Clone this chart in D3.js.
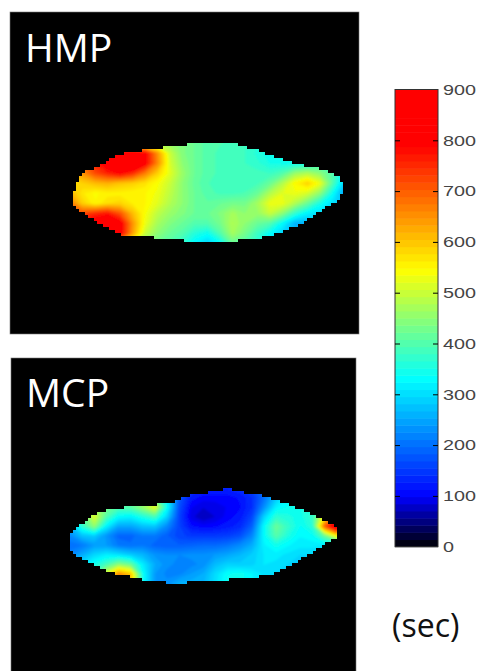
<!DOCTYPE html>
<html>
<head>
<meta charset="utf-8">
<script src="https://cdn.jsdelivr.net/npm/d3@7"></script>
<style>
  body { margin: 0; background: #fff; }
  svg { display: block; }
</style>
</head>
<body>
<svg id="chart" width="479" height="671"></svg>
<script>
// colorbar
var barTicks = [0, 100, 200, 300, 400, 500, 600, 700, 800, 900];
var rampStops = [0, 100, 330, 440, 545, 790, 900];
var rampColors = ["#000000", "#0000ff", "#00ffff", "#80ff80", "#ffff00", "#ff0000", "#ff0000"];
var levelCount = 64;
var maxValue = 900;

// time values (sec), rows top to bottom
var hmpValues = [
  [480,480,480,500,500,500,500,480,460,440,420,400,395,390,380,370,360,350,340,340,340,340,340],
  [560,600,680,760,820,830,800,650,500,440,420,400,390,385,380,360,340,335,330,330,340,340,330],
  [640,680,760,830,880,880,800,660,510,450,420,400,390,385,380,370,350,345,340,350,380,370,330],
  [600,650,720,760,790,750,670,590,520,460,420,400,390,385,385,385,380,400,460,480,450,400,320],
  [580,590,610,620,600,590,570,540,500,450,415,395,385,385,385,390,420,480,550,590,530,400,280],
  [620,565,545,555,555,550,550,530,490,450,420,400,390,390,395,420,480,520,530,510,450,340,240],
  [680,590,550,575,585,560,550,520,480,450,420,410,420,430,430,470,530,530,480,420,350,300,280],
  [720,720,750,770,710,610,540,490,460,440,420,420,440,470,450,460,500,450,370,320,300,300,300],
  [800,800,830,860,810,650,530,470,440,420,400,400,430,480,450,420,400,330,260,260,300,300,300],
  [800,800,830,860,810,640,500,450,420,400,360,340,400,470,430,380,330,290,270,270,300,300,300],
  [700,700,700,700,600,500,450,420,400,370,320,290,330,420,400,370,330,300,300,300,300,300,300]
];
var mcpValues = [
  [300,300,300,320,340,340,340,340,300,200,150,130,130,130,140,160,200,260,300,320,320,320,320],
  [300,310,320,340,360,380,400,420,320,180,120,105,105,105,115,140,200,280,330,345,340,340,340],
  [300,370,470,430,400,410,460,530,340,170,100,85,90,100,110,140,230,320,340,350,365,390,400],
  [290,395,520,400,330,320,355,390,290,160,90,70,85,105,120,160,290,370,355,345,375,550,700],
  [265,370,455,320,250,250,275,280,225,160,115,105,110,120,135,185,330,420,375,335,365,700,900],
  [225,275,285,235,190,190,210,210,185,160,150,150,150,155,170,220,330,405,355,325,335,420,550],
  [200,210,240,240,210,200,210,190,185,185,190,195,195,205,225,255,320,345,325,315,315,310,310],
  [220,255,295,315,305,285,265,235,225,225,230,230,240,250,265,285,310,315,305,295,295,290,290],
  [270,305,345,390,450,420,315,255,230,220,220,230,270,290,285,290,310,305,295,285,285,280,280],
  [300,340,400,520,660,600,340,240,220,220,240,255,300,335,345,325,305,295,285,285,285,280,280],
  [300,340,420,540,690,630,340,240,230,260,260,265,305,345,345,325,305,285,285,285,285,280,280]
];

// edge of each map, in column / row units of the grids above
var hmpOutline = [
  [0.13,5.67],[0.4,4.67],[0.8,3.33],[1.33,2.83],[2.67,2.17],[3.73,1.17],[6.13,0.67],[8,0.33],
  [10.13,0.07],[13.33,0.07],[15.2,0.83],[17.87,2],[20.53,2.73],[21.47,3.33],[21.87,4.33],[21.87,5],
  [21.33,5.83],[19.5,7.2],[18.4,8.17],[16,9.33],[13.07,9.83],[10.67,10],[7.73,9.5],[4.27,9.33],
  [2.67,8.33],[1.07,7],[0.27,6.33]
];
var mcpOutline = [
  [0,4.9],[0.82,4],[1.65,3],[3.3,2.2],[6.05,1.85],[8.25,1.65],[9.35,0.9],[11.55,0.45],
  [13.2,0],[13.75,0.35],[15.68,0.7],[17.88,1.6],[20.63,3.15],[21.87,4],[22.05,5.25],[20.9,6],
  [18.98,7.55],[17.05,8.95],[14.58,9.6],[12.38,9.65],[9.08,10],[8.25,10],[6.05,9.65],[5.08,9.35],
  [3.85,9.1],[2.2,8.25],[0.82,7.35],[0.14,6.65],[-0.05,5.8]
];

var svg = d3.select("#chart");

// slight softening, the maps in the picture are a bit blurry
svg.append("filter")
    .attr("id", "soft")
  .append("feGaussianBlur")
    .attr("stdDeviation", 1.2);

var color = d3.scaleLinear()
    .domain(rampStops)
    .range(rampColors)
    .clamp(true);

var levelSize = maxValue / levelCount;
var thresholds = d3.range(levelCount).map(function(i) { return i * levelSize; });
var edgeStep = 3; // the maps have blocky edges

function bandColor(t) { return color(t + levelSize / 2); }

// one black panel with its heat map and label
function drawPanel(id, label, values, outline, box, extent, labelY) {
  var rows = values.length,
      cols = values[0].length;

  svg.append("rect")
      .attr("x", box.x).attr("y", box.y)
      .attr("width", box.w).attr("height", box.h)
      .attr("fill", "#000")
      .attr("stroke", "#777")
      .attr("stroke-width", 0.6);

  var x = d3.scaleLinear().domain([0, cols - 1]).range(extent.x);
  var y = d3.scaleLinear().domain([0, rows - 1]).range(extent.y);

  // clip made of small squares that lie inside the outline
  var edge = outline.map(function(d) { return [x(d[0]), y(d[1])]; });
  var xs = d3.range(extent.x[0] - edgeStep, extent.x[1] + edgeStep, edgeStep);
  var ys = d3.range(extent.y[0] - edgeStep, extent.y[1] + edgeStep, edgeStep);
  var squares = d3.cross(xs, ys).filter(function(d) {
    return d3.polygonContains(edge, [d[0] + edgeStep / 2, d[1] + edgeStep / 2]);
  });

  svg.append("clipPath")
      .attr("id", id)
    .selectAll("rect")
    .data(squares)
    .enter()
    .append("rect")
      .attr("x", function(d) { return Math.round(d[0]); })
      .attr("y", function(d) { return Math.round(d[1]); })
      .attr("width", edgeStep)
      .attr("height", edgeStep);

  // contour coordinates have cell centres at +0.5
  var path = d3.geoPath(d3.geoTransform({
    point: function(px, py) { this.stream.point(x(px - 0.5), y(py - 0.5)); }
  }));

  var contours = d3.contours()
      .size([cols, rows])
      .thresholds(thresholds)(d3.merge(values));

  svg.append("g")
      .attr("clip-path", "url(#" + id + ")")
    .append("g")
      .attr("filter", "url(#soft)")
    .selectAll("path")
    .data(contours)
    .enter()
    .append("path")
      .attr("d", path)
      .attr("fill", function(d) { return bandColor(d.value); });

  svg.append("text")
      .attr("x", box.x + 15)
      .attr("y", labelY)
      .attr("fill", "#fff")
      .attr("font-family", "'Open Sans', sans-serif")
      .attr("font-size", 39)
      .text(label);
}

drawPanel("clip-hmp", "HMP", hmpValues, hmpOutline,
    {x: 10, y: 12, w: 349, h: 322}, {x: [70, 345], y: [143.3, 243.3]}, 62);
drawPanel("clip-mcp", "MCP", mcpValues, mcpOutline,
    {x: 11, y: 358, w: 345, h: 314}, {x: [70, 336.7], y: [488.3, 583.3]}, 407);

// COLORBAR
var barLeft = 395, barRight = 438;
var barY = d3.scaleLinear().domain([0, maxValue]).range([546.7, 89.5]);

svg.append("g").selectAll("rect")
    .data(thresholds)
    .enter()
    .append("rect")
      .attr("x", barLeft)
      .attr("width", barRight - barLeft)
      .attr("y", function(d) { return barY(d + levelSize); })
      .attr("height", function(d) { return barY(d) - barY(d + levelSize) + 0.5; })
      .attr("fill", bandColor);

svg.append("rect")
    .attr("x", barLeft).attr("y", barY(maxValue))
    .attr("width", barRight - barLeft).attr("height", barY(0) - barY(maxValue))
    .attr("fill", "none")
    .attr("stroke", "#333")
    .attr("stroke-width", 1);

// inner ticks on both sides, labels on the right
var innerTicks = barTicks.filter(function(d) { return d > 0 && d < maxValue; });

svg.append("g")
    .attr("transform", "translate(" + barLeft + ",0)")
    .call(d3.axisRight(barY).tickValues(innerTicks).tickSize(5).tickFormat(""))
    .call(function(g) { g.select(".domain").remove(); });

svg.append("g")
    .attr("transform", "translate(" + barRight + ",0)")
    .call(d3.axisLeft(barY).tickValues(innerTicks).tickSize(5).tickFormat(""))
    .call(function(g) { g.select(".domain").remove(); });

svg.append("g")
    .attr("transform", "translate(" + barRight + ",0)")
    .call(d3.axisRight(barY).tickValues(barTicks).tickSize(0).tickPadding(5))
    .call(function(g) {
      g.select(".domain").remove();
      g.selectAll("text")
          .attr("fill", "#444")
          .attr("font-family", "'Liberation Sans', sans-serif")
          .attr("font-size", 15)
          .attr("textLength", function(d) { return String(d).length * 11; })
          .attr("lengthAdjust", "spacingAndGlyphs");
    });

svg.append("text")
    .attr("x", 392)
    .attr("y", 637)
    .attr("fill", "#111")
    .attr("font-family", "'Open Sans', sans-serif")
    .attr("font-size", 32)
    .text("(sec)");
</script>
</body>
</html>
